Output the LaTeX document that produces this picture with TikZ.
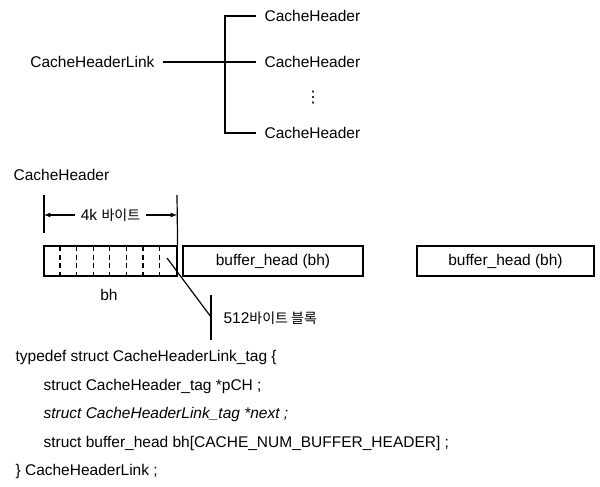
\documentclass[tikz,border=0pt]{standalone}
\usepackage{fontspec}
\setmainfont{Liberation Sans}
\newfontfamily\kr{Noto Sans CJK KR}
\newfontfamily\sym{DejaVu Sans}
\usetikzlibrary{arrows}

\begin{document}
\begin{tikzpicture}[x=1pt, y=-1pt, line width=1.2pt, >=latex,
      font=\fontsize{15.5}{18}\selectfont,
      lbl/.style={inner sep=0pt, inner xsep=8pt},
      code/.style={anchor=west, inner sep=0pt},
      bhbox/.style={draw, minimum height=30pt, inner sep=0pt}]
    \useasboundingbox (0,0) rectangle (600,487);
    % link and its headers
    \node[lbl, anchor=east] (link) at (163,62) {CacheHeaderLink};
    \node[lbl, anchor=west] (ch1) at (256,16) {CacheHeader};
    \node[lbl, anchor=west] (ch2) at (256,62) {CacheHeader};
    \node[lbl, anchor=west] (ch3) at (256,133) {CacheHeader};
    \node (dots) at (313,98) {\sym\fontsize{16}{18}\selectfont ⋮};
    \coordinate (fork) at (225,62);
    \draw (link) -- (ch2);
    \draw (ch1.west) -| (fork) |- (ch3.west);

    % one CacheHeader
    \node[anchor=west, inner sep=0pt] (chname) at (13,175) {CacheHeader};
    \node[bhbox, minimum width=133pt] (blk) at (110.5,261) {};
    \foreach \i in {1,...,7}
      \draw[dash pattern=on 5pt off 3.5pt] ([xshift=\i*16.6pt, yshift=-1pt]blk.north west) -- ([xshift=\i*16.6pt]blk.south west);
    \node[bhbox, minimum width=180pt] (bh2) at (273,261) {buffer\_head (bh)};
    \node[bhbox, minimum width=177pt] (bh3) at (505.5,261) {buffer\_head (bh)};
    \node (bhname) at (109,295) {bh};

    % 4k bytes
    \coordinate (dimL) at (44,195);
    \coordinate (dimR) at (177,195);
    \draw (dimL) -- (44,233);
    \draw (dimR) -- (blk.north east);
    \draw[<->] (44,215) -- node[fill=white, inner xsep=6pt] (size) {4k {\kr\fontsize{14}{16}\selectfont 바이트}} (177,215);

    % 512 byte block
    \coordinate (cell) at (167,258);
    \coordinate (tick) at (211,317);
    \node[anchor=west, inner sep=0pt] (sect) at (223,318) {512{\kr\fontsize{14}{16}\selectfont 바이트 블록}};
    \draw (cell) -- (tick);
    \draw (211,295) -- (211,340);

    % structure
    \node[code] (c1) at (15,357) {typedef struct CacheHeaderLink\_tag \{};
    \node[code] (c2) at (43,386) {struct CacheHeader\_tag *pCH ;};
    \node[code] (c3) at (43,414) {\itshape struct CacheHeaderLink\_tag *next ;};
    \node[code] (c4) at (43,443) {struct buffer\_head bh[CACHE\_NUM\_BUFFER\_HEADER] ;};
    \node[code] (c5) at (15,471) {\} CacheHeaderLink ;};
\end{tikzpicture}
\end{document}
